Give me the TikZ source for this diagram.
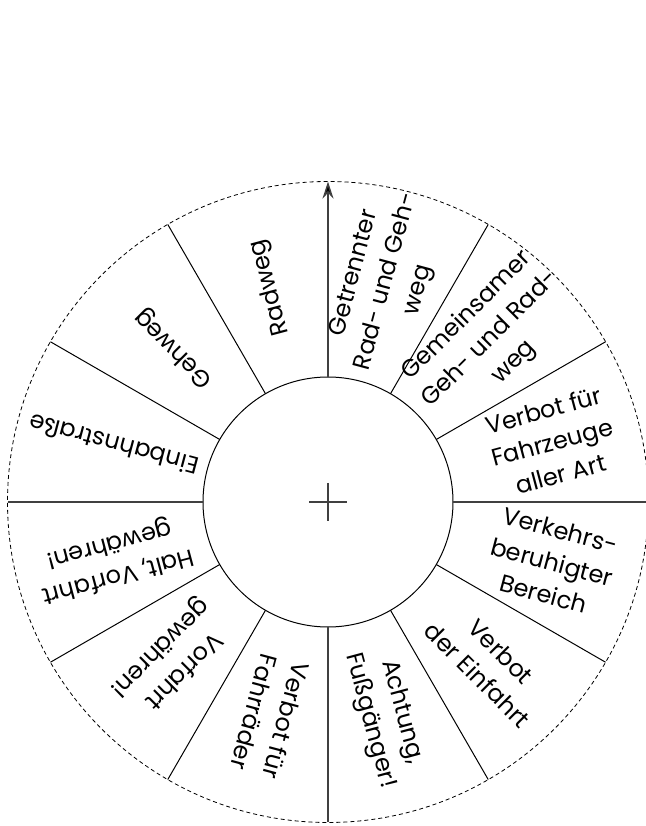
\documentclass[tikz,border=0pt]{standalone}
\usepackage{fontspec}
\setmainfont{Poppins}
\usetikzlibrary{calc,arrows.meta}
\tikzset{
  disc/.style={circle, inner sep=0pt, outer sep=0pt},
  sector label/.style={align=center, inner sep=0pt,
    font=\fontsize{12}{16.5}\selectfont},
  spoke/.style={line width=0.5pt},
  main spoke/.style={line width=0.75pt, draw=black!75}
}
\begin{document}
\begin{tikzpicture}[x=0.5pt,y=0.5pt]
  \useasboundingbox (0,0) rectangle (646,826);

  \node (rim) [disc, draw, dashed, dash pattern=on 2pt off 1.5pt, line width=0.4pt,
    minimum size=320.5pt] at (328,324) {};
  \node (hub) [disc, draw, line width=0.5pt, minimum size=125pt] at (rim.center) {};

  % cross in the middle
  \coordinate (cross_w) at ([xshift=-9.5pt]hub.center);
  \coordinate (cross_e) at ([xshift=9.5pt]hub.center);
  \coordinate (cross_n) at ([yshift=9.5pt]hub.center);
  \coordinate (cross_s) at ([yshift=-9.5pt]hub.center);
  \draw[main spoke] (cross_w) -- (cross_e);
  \draw[main spoke] (cross_n) -- (cross_s);

  % spokes
  \foreach \a in {30,60,120,150,210,240,300,330}
    \draw[spoke] (hub.\a) -- (rim.\a);
  \draw[main spoke] (hub.east) -- (rim.east);
  \draw[main spoke] (hub.west) -- (rim.west);
  \draw[main spoke] (hub.south) -- (rim.south);
  \draw[main spoke, -{Stealth[length=8.5pt, width=5.5pt, fill=black]}] (hub.north) -- (rim.north);

  % sector texts
  \foreach \a/\r/\txt in {75/228/{Getrennter\\Rad- und Geh-\\weg},
                          45/230/{Gemeinsamer\\Geh- und Rad-\\weg},
                          15/232/{Verbot für\\Fahrzeuge\\aller Art},
                          -15/232/{Verkehrs-\\beruhigter\\Bereich},
                          -45/228/{Verbot\\der Einfahrt},
                          -75/222/{Achtung,\\Fußgänger!},
                          -105/222/{Verbot für\\Fahrräder},
                          -135/222/{Vorfahrt\\gewähren!},
                          -165/222/{Halt, Vorfahrt\\gewähren!},
                          165/222/{Einbahnstraße},
                          135/218/{Gehweg},
                          105/222/{Radweg}}
    \node (label_\a) [sector label, rotate=\a] at ($(hub.center)+(\a:\r)$) {\txt};
\end{tikzpicture}
\end{document}
